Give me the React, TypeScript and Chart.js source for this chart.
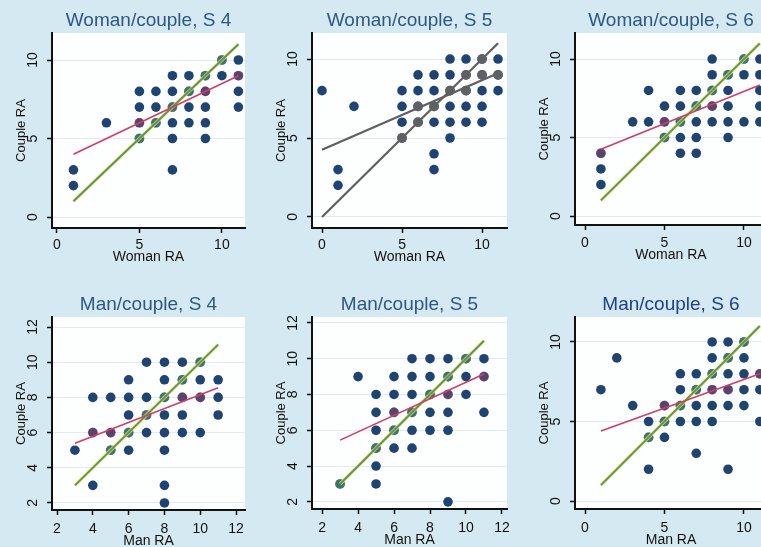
import React, { useEffect, useRef } from "react";
import { Chart, registerables } from "chart.js";
Chart.register(...registerables);

// ---------- DATA ----------
// Each panel: x categories and the Couple RA values observed at each x
const W4_XS = [1, 3, 5, 6, 7, 8, 9, 10, 11];
const W4_YS = [[2, 3], [6], [5, 6, 7, 8], [6, 7, 8], [3, 5, 6, 7, 8, 9], [6, 7, 8, 9], [5, 6, 7, 8, 9], [9, 10], [7, 8, 9, 10]];
const W4_FIT = [[1, 4], [11, 9]];
const W4_DIAG = [[1, 1], [11, 11]];

const W5_XS = [0, 1, 2, 5, 6, 7, 8, 9, 10, 11];
const W5_YS = [[8], [2, 3], [7], [5, 6, 7, 8], [6, 7, 8, 9], [3, 4, 6, 7, 8, 9], [5, 6, 7, 8, 9, 10], [6, 7, 8, 9, 10], [6, 7, 8, 9, 10], [8, 9, 10]];
const W5_FIT = [[0, 4.25], [11, 9.1]];
const W5_DIAG = [[0, 0], [11, 11]];

const W6_XS = [1, 3, 4, 5, 6, 7, 8, 9, 10, 11];
const W6_YS = [[2, 3, 4], [6], [6, 8], [5, 6, 7], [4, 5, 6, 7, 8], [4, 5, 6, 7, 8], [6, 7, 8, 9, 10], [5, 6, 7, 8, 9], [6, 9, 10], [6, 7, 8, 9, 10]];
const W6_FIT = [[1, 4.25], [11, 8.35]];
const W6_DIAG = [[1, 1], [11, 11]];

const M4_XS = [3, 4, 5, 6, 7, 8, 9, 10, 11];
const M4_YS = [[5], [3, 6, 8], [5, 6, 8], [5, 6, 7, 8, 9], [6, 7, 8, 10], [2, 3, 5, 6, 7, 8, 9, 10], [6, 7, 8, 9, 10], [6, 8, 9, 10], [7, 8, 9]];
const M4_FIT = [[3, 5.4], [11, 8.55]];
const M4_DIAG = [[3, 3], [11, 11]];

const M5_XS = [3, 4, 5, 6, 7, 8, 9, 10, 11];
const M5_YS = [[3], [9], [3, 4, 5, 6, 7, 8], [5, 6, 7, 8, 9], [5, 6, 7, 8, 9, 10], [6, 7, 8, 9, 10], [2, 6, 7, 8, 9, 10], [8, 9, 10], [7, 9, 10]];
const M5_FIT = [[3, 5.45], [11, 9.15]];
const M5_DIAG = [[3, 3], [11, 11]];

const M6_XS = [1, 2, 3, 4, 5, 6, 7, 8, 9, 10, 11];
const M6_YS = [[7], [9], [6], [2, 4, 5], [4, 5, 6], [5, 6, 7, 8], [3, 5, 6, 7, 8], [5, 6, 7, 8, 9, 10], [2, 6, 7, 8, 9, 10], [6, 7, 8, 9, 10], [5, 7, 8]];
const M6_FIT = [[1, 4.4], [11, 8.0]];
const M6_DIAG = [[1, 1], [11, 11]];

const TICKS_0_10 = [0, 5, 10];
const TICKS_2_12 = [2, 4, 6, 8, 10, 12];

const TITLES = ["Woman/couple, S 4", "Woman/couple, S 5", "Woman/couple, S 6", "Man/couple, S 4", "Man/couple, S 5", "Man/couple, S 6"];
const X_TITLES = ["Woman RA", "Woman RA", "Woman RA", "Man RA", "Man RA", "Man RA"];
const Y_TITLE = "Couple RA";

// ---------- STYLE / LAYOUT ----------
const FONT = '"Liberation Sans", Arial, Helvetica, sans-serif';
const BG = "#d4e9f1";
const DOT = "#1f4471";
const GREEN = "#62944f";
const HALO = "rgba(232,232,125,0.75)";
const RED = "#cf3f63";
const GREY = "#5f5f5f";

type Pt = { x: number; y: number };
function expand(xs: number[], ys: number[][]): Pt[] {
  const out: Pt[] = [];
  xs.forEach((x, i) => ys[i].forEach((y) => out.push({ x, y })));
  return out;
}
const seg = (s: number[][]): Pt[] => s.map(([x, y]) => ({ x, y }));

type Spec = {
  xs: number[]; ys: number[][]; fit: number[][]; diag: number[][];
  title: string; xTitle: string; titleColor: string; grey?: boolean;
  l: number; t: number; r: number; b: number;
  xMin: number; xMax: number; yMin: number; yMax: number;
  xTicks: number[]; yTicks: number[]; tickDy: number; titleDy: number;
};

const SPECS: Spec[] = [
  { xs: W4_XS, ys: W4_YS, fit: W4_FIT, diag: W4_DIAG, title: TITLES[0], xTitle: X_TITLES[0], titleColor: "#2f5785",
    l: 52, t: 33, r: 245, b: 228, xMin: -0.3, xMax: 11.4, yMin: -0.7, yMax: 11.72, xTicks: TICKS_0_10, yTicks: TICKS_0_10, tickDy: 17, titleDy: 29 },
  { xs: W5_XS, ys: W5_YS, fit: W5_FIT, diag: W5_DIAG, title: TITLES[1], xTitle: X_TITLES[1], titleColor: "#2f5785", grey: true,
    l: 312, t: 33, r: 507, b: 228, xMin: -0.625, xMax: 11.56, yMin: -0.7, yMax: 11.65, xTicks: TICKS_0_10, yTicks: TICKS_0_10, tickDy: 17, titleDy: 29 },
  { xs: W6_XS, ys: W6_YS, fit: W6_FIT, diag: W6_DIAG, title: TITLES[2], xTitle: X_TITLES[2], titleColor: "#2f5785",
    l: 575, t: 33, r: 767, b: 225, xMin: -0.63, xMax: 11.45, yMin: -0.57, yMax: 11.66, xTicks: TICKS_0_10, yTicks: TICKS_0_10, tickDy: 18, titleDy: 30 },
  { xs: M4_XS, ys: M4_YS, fit: M4_FIT, diag: M4_DIAG, title: TITLES[3], xTitle: X_TITLES[3], titleColor: "#2f5785",
    l: 52, t: 317, r: 245, b: 510, xMin: 1.72, xMax: 12.5, yMin: 1.6, yMax: 12.57, xTicks: TICKS_2_12, yTicks: TICKS_2_12, tickDy: 19, titleDy: 31 },
  { xs: M5_XS, ys: M5_YS, fit: M5_FIT, diag: M5_DIAG, title: TITLES[4], xTitle: X_TITLES[4], titleColor: "#2f5785",
    l: 312, t: 317, r: 507, b: 509, xMin: 1.44, xMax: 12.28, yMin: 1.6, yMax: 12.33, xTicks: TICKS_2_12, yTicks: TICKS_2_12, tickDy: 19, titleDy: 31 },
  { xs: M6_XS, ys: M6_YS, fit: M6_FIT, diag: M6_DIAG, title: TITLES[5], xTitle: X_TITLES[5], titleColor: "#1f3e8f",
    l: 575, t: 317, r: 767, b: 509, xMin: -0.63, xMax: 11.45, yMin: -0.5, yMax: 11.57, xTicks: TICKS_0_10, yTicks: TICKS_0_10, tickDy: 19, titleDy: 31 },
];

const ML = 45, MT = 32, MR = 10, MB = 40;

const decor = {
  id: "decor",
  beforeDraw(chart: any) {
    const { ctx, chartArea: ca } = chart;
    ctx.save();
    ctx.fillStyle = "#fdfefe";
    ctx.fillRect(ca.left, ca.top, ca.right - ca.left, ca.bottom - ca.top);
    ctx.restore();
  },
  afterDatasetDraw(chart: any, args: any, o: any) {
    if (args.index !== 3) return;
    const { ctx } = chart;
    const ds = chart.data.datasets[3].data as Pt[];
    ctx.save();
    args.meta.data.forEach((el: any, i: number) => {
      const p = ds[i];
      for (const ln of o.lines) {
        const [[x0, y0], [x1, y1]] = ln.seg;
        const yy = y0 + ((y1 - y0) / (x1 - x0)) * (p.x - x0);
        if (Math.abs(p.y - yy) < ln.thr) {
          ctx.fillStyle = ln.color;
          ctx.beginPath();
          ctx.arc(el.x, el.y, 4.9, 0, Math.PI * 2);
          ctx.fill();
          break;
        }
      }
    });
    ctx.restore();
  },
  afterDraw(chart: any, _a: any, o: any) {
    const { ctx, chartArea: ca, scales } = chart;
    const xs = scales.x, ys = scales.y;
    ctx.save();
    ctx.textAlign = "center";
    ctx.textBaseline = "middle";
    ctx.fillStyle = o.titleColor;
    ctx.font = `19px ${FONT}`;
    ctx.fillText(o.title, (ca.left + ca.right) / 2, ca.top - 12);
    ctx.fillStyle = "#111";
    ctx.font = `14px ${FONT}`;
    xs.ticks.forEach((t: any) => ctx.fillText(String(t.value), xs.getPixelForValue(t.value), ca.bottom + o.tickDy));
    ys.ticks.forEach((t: any) => {
      ctx.save();
      ctx.translate(ca.left - 19, ys.getPixelForValue(t.value));
      ctx.rotate(-Math.PI / 2);
      ctx.fillText(String(t.value), 0, 0);
      ctx.restore();
    });
    ctx.fillText(o.xTitle, (ca.left + ca.right) / 2, ca.bottom + o.titleDy);
    ctx.font = `13px ${FONT}`;
    ctx.translate(ca.left - 31, (ca.top + ca.bottom) / 2);
    ctx.rotate(-Math.PI / 2);
    ctx.fillText(Y_TITLE, 0, 0);
    ctx.restore();
  },
};

function Panel({ s }: { s: Spec }) {
  const ref = useRef<HTMLCanvasElement>(null);
  const W = ML + (s.r - s.l) + MR;
  const H = MT + (s.b - s.t) + MB;
  useEffect(() => {
    const lineCol = s.grey ? GREY : RED;
    const diagCol = s.grey ? GREY : GREEN;
    const chart = new Chart(ref.current as HTMLCanvasElement, {
      type: "scatter",
      data: {
        datasets: [
          { data: seg(s.fit), showLine: true, borderColor: lineCol, borderWidth: s.grey ? 2.2 : 1.6, pointRadius: 0 } as any,
          { data: seg(s.diag), showLine: true, borderColor: diagCol, borderWidth: s.grey ? 2.2 : 2, pointRadius: 0 } as any,
          { data: seg(s.diag), showLine: true, borderColor: s.grey ? "rgba(0,0,0,0)" : HALO, borderWidth: 3.6, pointRadius: 0 } as any,
          { data: expand(s.xs, s.ys), pointRadius: 4.8, pointBackgroundColor: DOT, pointBorderWidth: 0, pointHoverRadius: 4.8 } as any,
        ],
      },
      options: {
        animation: false,
        responsive: false,
        devicePixelRatio: 1,
        events: [],
        layout: { padding: { left: 0, top: MT, right: MR, bottom: 0 } },
        plugins: {
          legend: { display: false },
          tooltip: { enabled: false },
          decor: {
            title: s.title, xTitle: s.xTitle, titleColor: s.titleColor, tickDy: s.tickDy, titleDy: s.titleDy,
            lines: s.grey
              ? [
                  { seg: s.diag, thr: 0.3, color: "rgba(100,100,100,0.92)" },
                  { seg: s.fit, thr: 0.4, color: "rgba(100,100,100,0.92)" },
                ]
              : [
                  { seg: s.diag, thr: 0.3, color: "rgba(95,150,100,0.55)" },
                  { seg: s.fit, thr: 0.3, color: "rgba(200,70,110,0.35)" },
                ],
          },
        } as any,
        scales: {
          x: {
            type: "linear",
            min: s.xMin,
            max: s.xMax,
            afterBuildTicks: (sc: any) => { sc.ticks = s.xTicks.map((v) => ({ value: v })); },
            afterFit: (sc: any) => { sc.height = MB; },
            ticks: { display: false },
            grid: { drawOnChartArea: false, drawTicks: true, tickLength: 5, tickColor: "#111", tickWidth: 1.5 },
            border: { display: true, color: "#111", width: 2 },
          },
          y: {
            type: "linear",
            min: s.yMin,
            max: s.yMax,
            afterBuildTicks: (sc: any) => { sc.ticks = s.yTicks.map((v) => ({ value: v })); },
            afterFit: (sc: any) => { sc.width = ML; },
            ticks: { display: false },
            grid: { color: "#e2ecf0", lineWidth: 1, drawTicks: true, tickLength: 5, tickColor: "#111", tickWidth: 1.5 },
            border: { display: true, color: "#111", width: 2 },
          },
        },
      },
      plugins: [decor as any],
    });
    return () => chart.destroy();
  }, [s]);
  return (
    <canvas
      ref={ref}
      width={W}
      height={H}
      style={{ position: "absolute", left: s.l - ML, top: s.t - MT, width: W, height: H }}
    />
  );
}

export default function App() {
  return (
    <div style={{ position: "absolute", left: 0, top: 0, width: 761, height: 547, overflow: "hidden", background: BG }}>
      {SPECS.map((s, i) => (
        <Panel key={i} s={s} />
      ))}
    </div>
  );
}
